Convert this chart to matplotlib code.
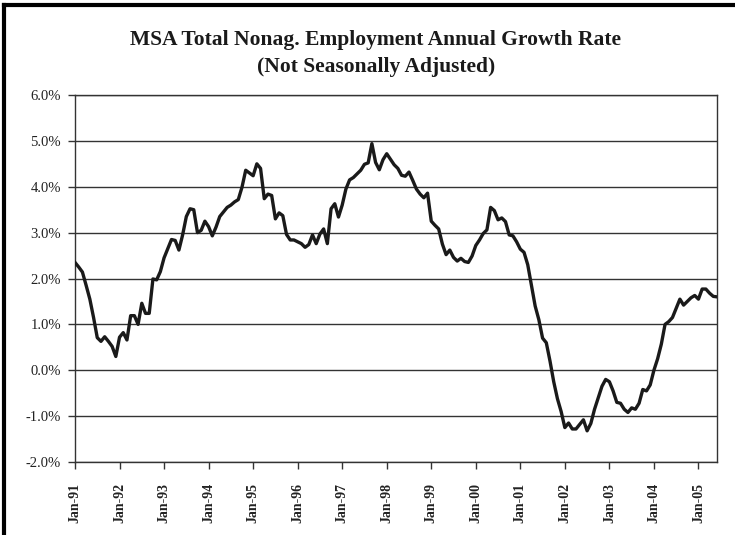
import matplotlib
matplotlib.use("Agg")
import matplotlib.pyplot as plt
from matplotlib.lines import Line2D
import numpy as np

# Monthly growth rates (%), Jan-91 .. Jun-05
y1991 = [2.35, 2.25, 2.14, 1.85, 1.55, 1.15, 0.71, 0.63, 0.73, 0.63, 0.52, 0.30]
y1992 = [0.72, 0.82, 0.66, 1.19, 1.19, 1.00, 1.46, 1.24, 1.24, 1.99, 1.97, 2.15]
y1993 = [2.45, 2.65, 2.85, 2.83, 2.62, 2.95, 3.35, 3.52, 3.50, 3.00, 3.05, 3.25]
y1994 = [3.13, 2.93, 3.12, 3.35, 3.45, 3.55, 3.60, 3.67, 3.72, 3.99, 4.36, 4.30]
y1995 = [4.24, 4.50, 4.40, 3.74, 3.84, 3.81, 3.30, 3.43, 3.37, 2.96, 2.84, 2.84]
y1996 = [2.80, 2.76, 2.68, 2.74, 2.95, 2.76, 2.97, 3.08, 2.76, 3.52, 3.63, 3.34]
y1997 = [3.60, 3.95, 4.15, 4.20, 4.28, 4.36, 4.49, 4.52, 4.94, 4.53, 4.37, 4.59]
y1998 = [4.72, 4.60, 4.48, 4.40, 4.25, 4.23, 4.32, 4.14, 3.95, 3.84, 3.76, 3.86]
y1999 = [3.25, 3.16, 3.08, 2.75, 2.52, 2.62, 2.46, 2.38, 2.44, 2.37, 2.35, 2.49]
y2000 = [2.72, 2.84, 2.98, 3.06, 3.55, 3.48, 3.28, 3.32, 3.24, 2.95, 2.93, 2.80]
y2001 = [2.64, 2.57, 2.30, 1.85, 1.40, 1.10, 0.70, 0.60, 0.20, -0.25, -0.62, -0.90]
y2002 = [-1.25, -1.15, -1.28, -1.28, -1.18, -1.08, -1.32, -1.16, -0.85, -0.60, -0.35, -0.20]
y2003 = [-0.25, -0.45, -0.70, -0.72, -0.85, -0.92, -0.82, -0.85, -0.72, -0.42, -0.45, -0.32]
y2004 = [0.00, 0.25, 0.57, 1.00, 1.06, 1.15, 1.35, 1.55, 1.42, 1.50, 1.58, 1.63]
y2005 = [1.55, 1.77, 1.77, 1.68, 1.61, 1.60]

growth = (y1991 + y1992 + y1993 + y1994 + y1995 + y1996 + y1997 + y1998 +
          y1999 + y2000 + y2001 + y2002 + y2003 + y2004 + y2005)

tick_labels = ["Jan-91", "Jan-92", "Jan-93", "Jan-94", "Jan-95", "Jan-96", "Jan-97",
               "Jan-98", "Jan-99", "Jan-00", "Jan-01", "Jan-02", "Jan-03", "Jan-04", "Jan-05"]
y_ticks = [-2, -1, 0, 1, 2, 3, 4, 5, 6]

title_line1 = "MSA Total Nonag. Employment Annual Growth Rate"
title_line2 = "(Not Seasonally Adjusted)"

plt.rcParams['font.family'] = ['Liberation Serif', 'DejaVu Serif']

fig = plt.figure(figsize=(7.35, 5.35), dpi=100)
fig.patch.set_facecolor('white')
ax = fig.add_axes([75/735, 1 - 462/535, (717 - 75)/735, (462 - 95)/535])

x = np.arange(len(growth))
ax.plot(x, growth, color='#1a1a1a', linewidth=2.4, solid_joinstyle='round', zorder=3)

ax.set_xlim(0, len(growth) - 1)
ax.set_ylim(-2, 6)
ax.set_yticks(y_ticks)
ax.set_yticklabels([f"{v:.1f}%" for v in y_ticks], fontsize=10.5, color='#222222')
ax.set_xticks(np.arange(0, len(growth), 12))
ax.set_xticklabels(tick_labels, rotation=90, fontsize=10, fontweight='bold', color='#222222')

ax.grid(axis='y', color='#333333', linewidth=1.0)
ax.set_axisbelow(True)
for s in ax.spines.values():
    s.set_color('#333333')
    s.set_linewidth(1.0)
ax.tick_params(axis='both', direction='out', length=5, color='#333333', width=1.0)
ax.tick_params(axis='x', pad=10)
ax.tick_params(axis='y', pad=5)

fig.text(376/735, 1 - 40/535, title_line1, ha='center', va='center', fontsize=15.5,
         fontweight='bold', color='#1a1a1a')
fig.text(376/735, 1 - 67/535, title_line2, ha='center', va='center', fontsize=15.5,
         fontweight='bold', color='#1a1a1a')

# outer frame (scanned page border) - left and top
fig.add_artist(Line2D([4/735, 4/735], [0, 1 - 5/535], transform=fig.transFigure,
                      color='black', linewidth=3))
fig.add_artist(Line2D([4/735, 1], [1 - 5/535, 1 - 5/535], transform=fig.transFigure,
                      color='black', linewidth=3))

fig.savefig("out.png", dpi=100, facecolor='white')
